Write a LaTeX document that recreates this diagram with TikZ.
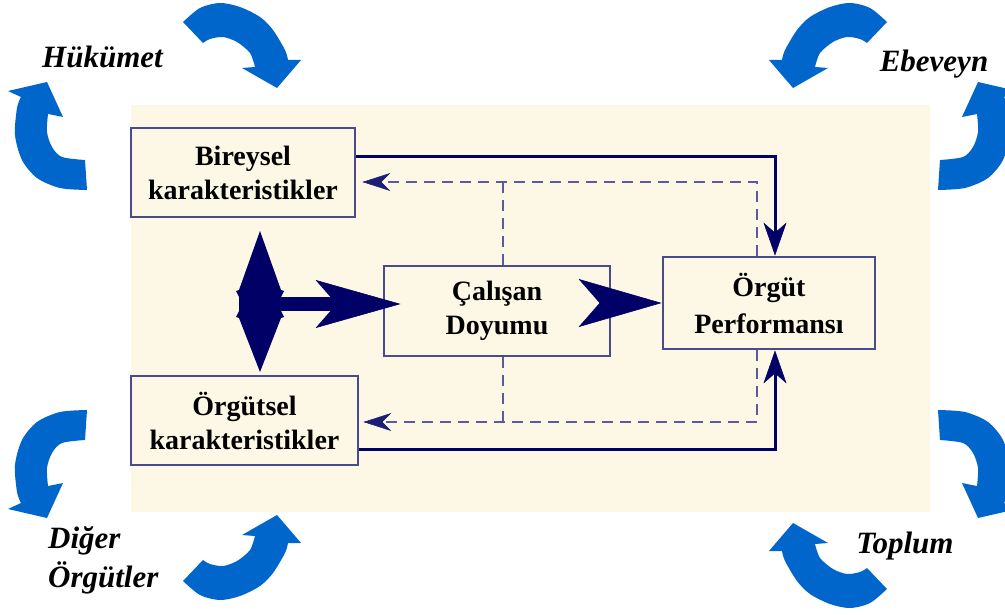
\documentclass[tikz,border=0pt]{standalone}
\usepackage{fontspec}
\setmainfont{Liberation Serif}
\usetikzlibrary{arrows.meta,calc}
\definecolor{cream}{HTML}{FDF8E6}
\definecolor{cblue}{HTML}{0066CC}
\definecolor{navy}{HTML}{000066}
\definecolor{boxline}{HTML}{4A4A8E}
\definecolor{dashline}{HTML}{5A5A9C}
\definecolor{dashtip}{HTML}{1E1E72}
\newcommand\curvedArrowA{%
  \fill[cblue] (183,22) -- plot[smooth] coordinates {(183,22) (200,8) (220,3) (240,7) (260,17) (273,30) (285,50) (288,60)}
    -- (301,60) -- (277,88) -- (242,68) -- (255,67)
    -- plot[smooth] coordinates {(255,67) (250,53) (237,42) (223,37) (210,39) (203,43)} -- cycle;}
\newcommand\curvedArrowB{%
  \fill[cblue] (47,82) -- (63,117) -- (48,114)
    -- plot[smooth] coordinates {(48,114) (47,132) (52,147) (62,157) (85,160)}
    -- (87,190)
    -- plot[smooth] coordinates {(87,190) (60,188) (37,178) (22,160) (15,135) (17,108) (21,97)}
    -- (8,91) -- cycle;}
\begin{document}
\begin{tikzpicture}[x=1pt,y=-1pt,
  box/.style={draw=boxline, line width=2.8pt, fill=cream, inner sep=0pt, align=center,
    font=\fontsize{28}{34}\selectfont\bfseries},
  lbl/.style={font=\fontsize{31}{38}\selectfont\bfseries\itshape, inner sep=0pt},
  solidconn/.style={draw=navy, line width=3pt,
    -{Stealth[length=33pt,width=23pt,inset=10pt,line width=0.5pt]}},
  dashconn/.style={draw=dashline, line width=2.6pt, dash pattern=on 11pt off 7pt},
  dasharrow/.style={dashconn, -{Stealth[length=28pt,width=18pt,inset=9pt,line width=0.5pt,color=dashtip]}},
  bigtip/.style={-{Stealth[length=83pt,width=48pt,inset=21pt,line width=0.5pt]}}
]
\useasboundingbox (0,0) rectangle (1005,615);
\fill[white] (0,0) rectangle (1005,615);
\fill[cream] (131,105) rectangle (930,512);

% blue curved arrows
\curvedArrowA
\curvedArrowB
\begin{scope}[shift={(1070,0)}, xscale=-1]\curvedArrowA\end{scope}
\begin{scope}[shift={(1025,0)}, xscale=-1]\curvedArrowB\end{scope}
\begin{scope}[shift={(0,600)}, yscale=-1]\curvedArrowB\end{scope}
\begin{scope}[shift={(0,603)}, yscale=-1]\curvedArrowA\end{scope}
\begin{scope}[shift={(1025,600)}, xscale=-1, yscale=-1]\curvedArrowB\end{scope}
\begin{scope}[shift={(1070,611)}, xscale=-1, yscale=-1]\curvedArrowA\end{scope}

% labels
\node[lbl, anchor=base] (huk) at (102.5,68) {Hükümet};
\node[lbl, anchor=base] (ebe) at (934,72) {Ebeveyn};
\node[lbl, anchor=base] (topl) at (905,553) {Toplum};
\node[lbl, anchor=base west] (dig1) at (48,548) {Diğer};
\node[lbl, anchor=base west] (dig2) at (48,587) {Örgütler};

% boxes
\node[box, minimum width=224pt, minimum height=89pt] (bir) at (243,172.5) {Bireysel\\karakteristikler};
\node[box, minimum width=227pt, minimum height=89pt] (orgs) at (244.5,420.5) {Örgütsel\\karakteristikler};
\node[box, minimum width=226pt, minimum height=90pt] (cal) at (497,311) {Çalışan\\Doyumu};
\node[box, minimum width=212pt, minimum height=92pt, font=\fontsize{28}{37}\selectfont\bfseries] (perf) at (769,303) {Örgüt\\Performansı};

% coordinates for routing
\coordinate (tr) at (775,157);
\coordinate (br) at (775,449);
\coordinate (dt) at (757,182);
\coordinate (db) at (757,422);
\coordinate (jt) at (503,182);
\coordinate (jb) at (503,422);
\coordinate (hub) at (260,304);

% dashed feedback
\draw[dasharrow, shorten >=6pt] (perf.north -| dt) -- (dt) -- (bir.east |- dt);
\draw[dashconn] (cal.north -| jt) -- (jt);
\draw[dasharrow, shorten >=4pt] (perf.south -| db) -- (db) -- (orgs.east |- db);
\draw[dashconn] (cal.south -| jb) -- (jb);

% solid connectors
\draw[solidconn] (bir.east |- tr) -- (tr) -- (perf.north -| tr);
\draw[solidconn] (orgs.east |- br) -- (br) -- (perf.south -| br);

% vertical double arrow shape
\fill[navy] (260,231) -- (281,290) -- (284,291) -- (281,297) -- (281,311) -- (284,317) -- (281,318)
  -- (260,372) -- (239,318) -- (236,317) -- (239,311) -- (239,297) -- (236,291) -- (239,290) -- cycle;
% big arrows
\draw[navy, line width=14pt, -{Stealth[length=85pt,width=48pt,inset=21pt,line width=0.5pt]},
  shorten >=-18pt] (hub) -- (hub -| cal.west);
\draw[navy, line width=2.5pt, bigtip] (perf.west -| cal.east) -- (perf.west);
\end{tikzpicture}
\end{document}
